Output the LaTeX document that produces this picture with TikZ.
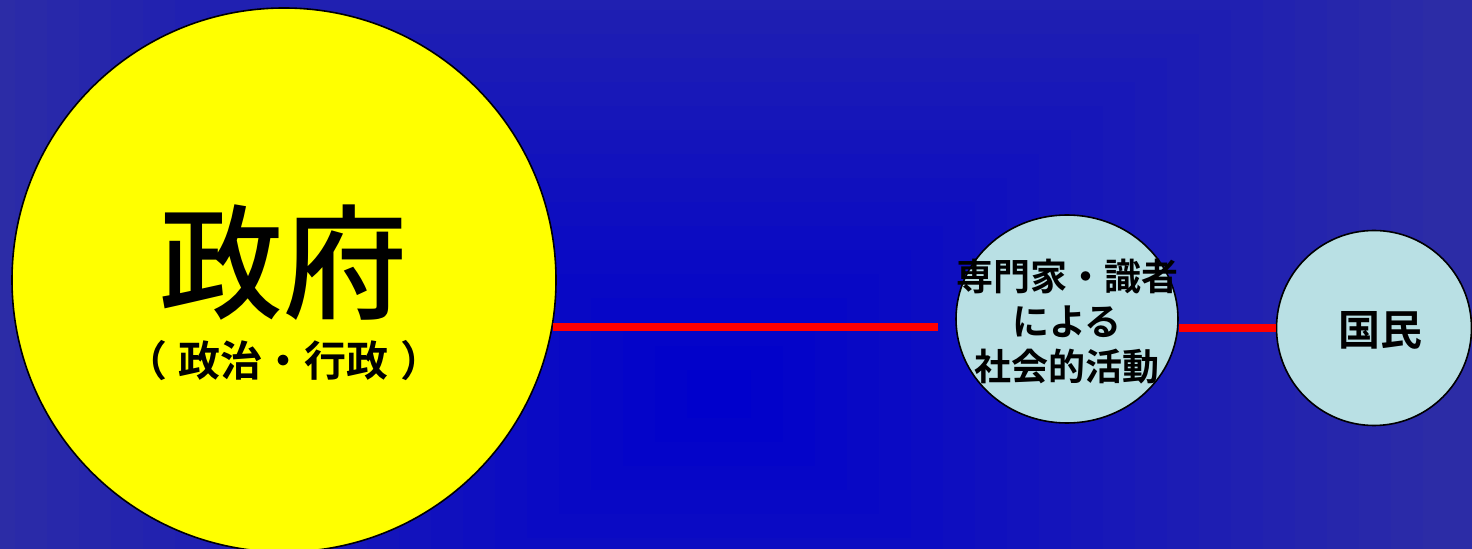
\documentclass[tikz,border=0pt]{standalone}
\usepackage{fontspec}
\usetikzlibrary{shapes.geometric,positioning}
\newfontfamily\cjk{Noto Sans CJK JP}[BoldFont=* Bold]
\newfontfamily\cjkmed{Noto Sans CJK JP Medium}
\definecolor{bgouter}{HTML}{2C2CA6}
\definecolor{bginner}{HTML}{0000CC}
\definecolor{govyellow}{HTML}{FFFF00}
\definecolor{paleblue}{HTML}{B9E0E4}
\definecolor{linkred}{HTML}{FF0000}

\begin{document}
\begin{tikzpicture}[x=0.5pt,y=-0.5pt,
  bubble/.style={draw=black,line width=0.8pt,inner sep=0pt},
  redlink/.style={draw=linkred,line width=4pt},
  jp/.style={inner sep=0pt,text=black,font=\cjk\bfseries}]
\useasboundingbox (0,0) rectangle (1472,549);
\clip (0,0) rectangle (1472,549);
% background: stepped rectangular gradient
\fill[bgouter] (0,0) rectangle (1472,549);
\foreach \k in {25,24,...,1}{\pgfmathtruncatemacro\p{min(100,100*(\k-1)/22)}\fill[bgouter!\p!bginner] (719-32*\k,394-24*\k) rectangle (719+32*\k,394+24*\k);}
% bubbles
\node[bubble,circle,fill=govyellow,minimum size=272pt] (gov) at (284,280) {};
\node[bubble,ellipse,fill=paleblue,minimum width=111pt,minimum height=104pt] (expert) at (1067,319) {};
\node[bubble,circle,fill=paleblue,minimum size=97.5pt] (people) at (1374,328) {};
% labels
\node[jp,font=\cjkmed\fontsize{62pt}{62pt}\selectfont] (govtitle) at (283,263) {政府};
\node[jp,font=\cjk\bfseries\fontsize{21pt}{21pt}\selectfont] (govsub) at (284,361) {（\hspace{6pt}政治・行政\hspace{6pt}）};
\node[jp,align=center,font=\cjk\bfseries\fontsize{18.5pt}{22.5pt}\selectfont] (experttext) at (1067,322) {専門家・識者\\による\\社会的活動};
\node[jp,font=\cjk\bfseries\fontsize{21pt}{21pt}\selectfont] (peopletext) at (1380,330) {国民};
% links
\draw[redlink] (gov.-10) -- ([xshift=-8.5pt]expert.west |- gov.-10);
\draw[redlink] (expert.east |- people.west) -- (people.west);
\end{tikzpicture}
\end{document}
